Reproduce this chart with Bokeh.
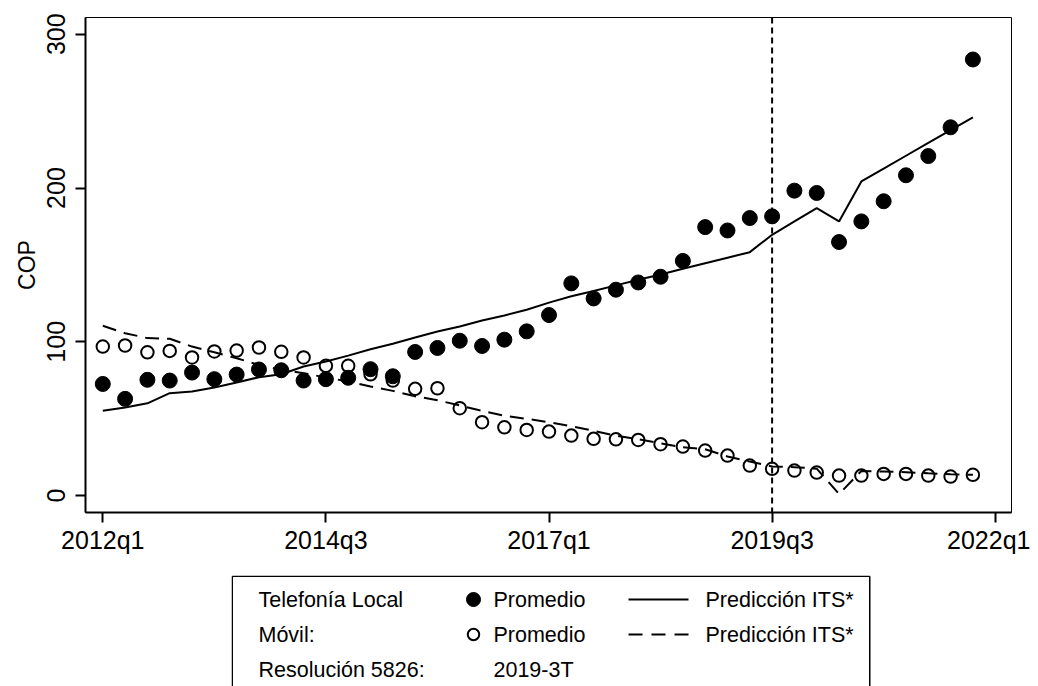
from bokeh.plotting import figure
from bokeh.models import Range1d, FixedTicker, Span, Spacer
from bokeh.layouts import column, row
from bokeh.core.properties import value
from bokeh.embed import file_html
from bokeh.resources import INLINE

# ---------------- data ----------------
start_quarter = "2012q1"
n_quarters = 40
x_tick_labels = ["2012q1", "2014q3", "2017q1", "2019q3", "2022q1"]
y_ticks = [0, 100, 200, 300]

local_avg = [72.6, 62.9, 75.3, 74.8, 80.0, 75.7, 78.7, 82.0, 81.5, 74.8,
             75.7, 76.6, 82.2, 77.6, 93.4, 96.0, 100.7, 97.3, 101.4, 106.8,
             117.4, 138.0, 128.2, 133.9, 138.6, 142.3, 152.6, 174.6, 172.4, 180.5,
             181.6, 198.3, 196.8, 164.9, 178.3, 191.4, 208.3, 220.8, 239.5, 283.6]
local_pred = [55.1, 57.3, 60.0, 66.6, 67.7, 70.3, 73.5, 77.0, 78.9, 83.9,
              87.2, 91.0, 95.2, 98.7, 102.8, 106.7, 110.0, 113.9, 117.1, 120.8,
              125.5, 129.6, 133.0, 136.7, 140.3, 143.8, 147.5, 151.1, 154.7, 158.3,
              169.6, 178.3, 187.0, 178.3, 204.3, 212.6, 221.0, 229.3, 237.6, 246.0]
movil_avg = [96.9, 97.6, 93.2, 94.1, 89.8, 93.7, 94.3, 96.3, 93.5, 89.8,
             84.4, 84.4, 78.9, 74.8, 69.4, 69.8, 56.8, 47.7, 44.4, 42.7,
             41.6, 39.0, 36.9, 36.6, 36.2, 33.4, 31.9, 29.3, 26.0, 19.5,
             17.4, 16.3, 15.0, 13.0, 13.0, 14.1, 14.1, 13.0, 12.4, 13.5]
movil_pred = [110.4, 105.6, 102.4, 102.0, 96.9, 93.2, 89.3, 85.0, 81.8, 79.6,
              76.8, 74.2, 70.9, 68.1, 64.6, 62.0, 58.6, 55.1, 51.9, 49.9,
              47.7, 45.1, 42.1, 39.0, 36.6, 34.0, 31.4, 30.1, 25.4, 22.1,
              18.9, 18.5, 17.5, 1.0, 16.0, 15.6, 15.2, 14.5, 13.9, 13.5]
resolution_label = "2019-3T"

legend_rows = [["Telefonía Local", "Promedio", "Predicción ITS*"],
               ["Móvil:", "Promedio", "Predicción ITS*"],
               ["Resolución 5826:", "2019-3T", ""]]


def q_index(label):
    y0, q0 = int(start_quarter[:4]), int(start_quarter[5:])
    y, q = int(label[:4]), int(label[5:])
    return (y - y0) * 4 + (q - q0)


x = list(range(n_quarters))
tick_pos = [q_index(l) for l in x_tick_labels]
res_year, res_q = resolution_label.split("-")
res_pos = q_index(f"{res_year}q{res_q[0]}")

FONT = "Liberation Sans"

# ---------------- main figure ----------------
p = figure(width=1030, height=575, output_backend="svg", toolbar_location=None,
           x_range=Range1d(-0.775, 40.73), y_range=Range1d(-11.0, 310.9),
           min_border_left=85, min_border_right=19, min_border_top=17,
           min_border_bottom=63)
p.outline_line_color = "black"
p.outline_line_width = 1
p.xgrid.visible = False
p.ygrid.visible = False
p.background_fill_color = "white"
p.border_fill_color = "white"

p.xaxis.ticker = FixedTicker(ticks=tick_pos)
p.xaxis.major_label_overrides = {t: l for t, l in zip(tick_pos, x_tick_labels)}
p.yaxis.ticker = FixedTicker(ticks=y_ticks)
p.yaxis.axis_label = "COP"
p.yaxis.major_label_orientation = "vertical"

for ax in (p.xaxis[0], p.yaxis[0]):
    ax.axis_line_width = 2
    ax.axis_line_color = "black"
    ax.major_tick_line_width = 2
    ax.major_tick_line_color = "black"
    ax.major_tick_out = 10
    ax.major_tick_in = 0
    ax.minor_tick_line_color = None
    ax.major_label_text_font = FONT
    ax.major_label_text_font_size = "25px"
    ax.major_label_text_color = "black"
    ax.axis_label_text_font = FONT
    ax.axis_label_text_font_size = "23px"
    ax.axis_label_text_font_style = "normal"
    ax.axis_label_text_color = "black"
p.xaxis.major_label_standoff = 3
p.yaxis.major_label_standoff = 10
p.yaxis.axis_label_standoff = 5

p.add_layout(Span(location=res_pos, dimension="height", line_color="black",
                  line_width=2, line_dash="6 4"))

p.scatter(x, movil_avg, size=12.5, marker="circle", fill_color=None,
          line_color="black", line_width=2)
p.scatter(x, local_avg, size=15, marker="circle", fill_color="black",
          line_color="black")
p.line(x, local_pred, line_color="black", line_width=2)
p.line(x, movil_pred, line_color="black", line_width=2, line_dash="14 8")

# ---------------- legend panel ----------------
LW, LH = 640, 111
lg = figure(width=LW, height=LH, output_backend="svg", toolbar_location=None,
            x_range=Range1d(0, LW), y_range=Range1d(LH, 0),
            min_border_left=0, min_border_right=0, min_border_top=0,
            min_border_bottom=0, x_axis_location=None, y_axis_location=None)
lg.outline_line_color = None
lg.xgrid.visible = False
lg.ygrid.visible = False

lg.segment(x0=[0.75, 0.75, 638.25], y0=[0.75, 0.75, 0.75],
           x1=[638.25, 0.75, 638.25], y1=[0.75, LH + 10, LH + 10],
           line_color="black", line_width=1.5)

row_y = [24, 59, 94]
col_x = [27, 262, 474]
for r, labels in enumerate(legend_rows):
    lg.text(x=[c for c, l in zip(col_x, labels) if l],
            y=[row_y[r]] * sum(1 for l in labels if l),
            text=[l for l in labels if l],
            text_font=value(FONT), text_font_size="21.5px",
            text_baseline="middle", text_align="left", text_color="black")

lg.scatter([242], [row_y[0]], size=14, marker="circle", fill_color="black",
           line_color="black")
lg.scatter([242], [row_y[1]], size=11.5, marker="circle", fill_color=None,
           line_color="black", line_width=2)
lg.line([397, 457], [row_y[0], row_y[0]], line_color="black", line_width=2)
lg.line([397, 457], [row_y[1], row_y[1]], line_color="black", line_width=2,
        line_dash="14 9")

layout = column(p, row(Spacer(width=231, height=LH), lg))

open("out.html", "w").write(file_html(layout, INLINE))
